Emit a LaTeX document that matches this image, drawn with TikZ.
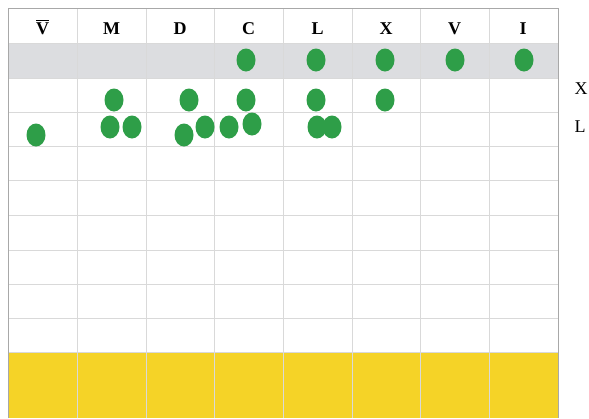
\documentclass[tikz,border=0pt]{standalone}
\usepackage{fontspec}
\setmainfont{Liberation Serif}
\definecolor{gridgray}{HTML}{D9D9D9}
\definecolor{framegray}{HTML}{A8A8A8}
\definecolor{bandgray}{HTML}{DCDDE0}
\definecolor{bargold}{HTML}{F5D327}
\definecolor{beadgreen}{HTML}{2E9E48}
\tikzset{
  colhead/.style={font=\fontsize{18}{21}\selectfont\bfseries,anchor=base},
  rowtag/.style={font=\fontsize{18}{21}\selectfont}
}
\begin{document}
\begin{tikzpicture}[x=1pt,y=-1pt]
\useasboundingbox (0,0) rectangle (589,418);
\fill[white] (0,0) rectangle (589,418);
% bands
\fill[bandgray] (8,43) rectangle (558,78);
\fill[bargold] (8,352) rectangle (558,418);
% grid
\foreach \y in {43,78,112,146,180,215,250,284,318,352}
  \draw[gridgray] (8,\y)--(558,\y);
\foreach \x in {77,146,214,283,352,420,489}
  \draw[gridgray] (\x,8)--(\x,418);
\draw[framegray] (8,418)--(8,8)--(558,8)--(558,418);
% column heads
\foreach \x/\t/\n in {42.5/$\overline{\hbox{\bfseries V\rule{0pt}{0.72em}}}$/vbar,111.5/M/m,180/D/d,248.5/C/c,317.5/L/l,386/X/x,454.5/V/v,523/I/i}
  \node[colhead] (h\n) at (\x,34.5) {\t};
% row tags
\node[rowtag] (tagx) at (581,89) {X};
\node[rowtag] (tagl) at (580,127) {L};
% beads
\foreach \x/\y in {246/60,316/60,385/60,455/60,524/60,
                   114/100,189/100,246/100,316/100,385/100,
                   36/135,110/127,132/127,184/135,205/127,229/127,252/124,317/127,332/127}
  \fill[beadgreen] (\x,\y) ellipse (9.5 and 11.5);
\end{tikzpicture}
\end{document}
